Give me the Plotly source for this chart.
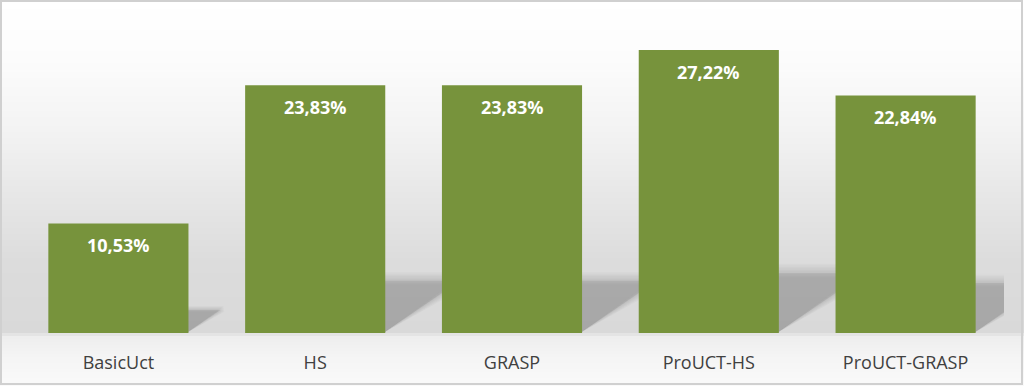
import plotly.graph_objects as go

categories = ["BasicUct", "HS", "GRASP", "ProUCT-HS", "ProUCT-GRASP"]
values = [10.53, 23.83, 23.83, 27.22, 22.84]
value_labels = ["10,53%", "23,83%", "23,83%", "27,22%", "22,84%"]

W, H = 1024, 386
L, R, T, B = 20, 20, 15, 53
PW, PH = W - L - R, H - T - B
PX_PER_Y = 10.4
YMAX = PH / PX_PER_Y
PX_PER_X = PW / len(categories)

BAR = "#77933C"
xs = list(range(len(categories)))

fig = go.Figure()
fig.add_trace(go.Bar(x=xs, y=values, marker=dict(color=BAR, line=dict(width=0)),
                     hoverinfo="skip"))

shapes = []

def px_to_py(py):
    return (H - B - py) / PH

def px_to_px(px):
    return (px - L) / PW

# background gradient (pixel stops)
stops = [(0, 255), (60, 252), (130, 243), (200, 230), (260, 220), (333, 217),
         (336, 238), (360, 245), (386, 250)]
def col_at(py):
    for (a, ca), (b, cb) in zip(stops, stops[1:]):
        if a <= py <= b:
            t = (py - a) / (b - a) if b > a else 0
            return round(ca + (cb - ca) * t)
    return stops[-1][1]

step = 3
for py in range(0, H, step):
    c = col_at(py + step / 2)
    shapes.append(dict(type="rect", xref="paper", yref="paper", layer="below",
                       x0=px_to_px(0), x1=px_to_px(W),
                       y0=px_to_py(py + step), y1=px_to_py(py),
                       fillcolor=f"rgb({c},{c},{c})", line=dict(width=0)))

# soft perspective (sheared) shadows behind bars
w = 0.356
layers = [(0.86, 0.68, 0.09)] + [(0.80 + 0.20 * k / 9, 0.56 + 0.16 * k / 9, 0.028)
                                 for k in range(10)]
for i, v in zip(xs, values):
    for s, slope, op in layers:
        hs = 0.245 * v * s
        shear = (hs * PX_PER_Y / slope) / PX_PER_X
        path = (f"M {i - w},0 L {i + w - 0.01},0 L {i + w - 0.01 + shear},{hs} "
                f"L {i - w + shear},{hs} Z")
        shapes.append(dict(type="path", xref="x", yref="y", layer="below", path=path,
                           fillcolor=f"rgba(70,70,70,{op})", line=dict(width=0)))

# chart border
shapes.append(dict(type="rect", xref="paper", yref="paper", layer="above",
                   x0=px_to_px(1), x1=px_to_px(W - 2),
                   y0=px_to_py(H - 2), y1=px_to_py(1),
                   fillcolor="rgba(0,0,0,0)", line=dict(color="#d0d0d0", width=2)))

annotations = []
for i, v, lab in zip(xs, values, value_labels):
    annotations.append(dict(x=i, y=v, xref="x", yref="y", text=lab, showarrow=False,
                            yanchor="middle", yshift=-22,
                            font=dict(family="Open Sans", size=18, color="white",
                                      weight="bold")))

fig.update_layout(
    width=W, height=H,
    margin=dict(l=L, r=R, t=T, b=B, pad=0),
    paper_bgcolor="white", plot_bgcolor="rgba(0,0,0,0)",
    showlegend=False, bargap=0.288,
    shapes=shapes, annotations=annotations,
    xaxis=dict(range=[-0.5, 4.5], tickvals=xs, ticktext=categories,
               showgrid=False, zeroline=False, showline=False, ticks="",
               ticklabelstandoff=17,
               tickfont=dict(family="Open Sans", size=18, color="#404040")),
    yaxis=dict(range=[0, YMAX], visible=False, showgrid=False, zeroline=False),
)

fig.write_html("out.html", config={"displayModeBar": False},
               post_script="document.body.style.margin='0';")
